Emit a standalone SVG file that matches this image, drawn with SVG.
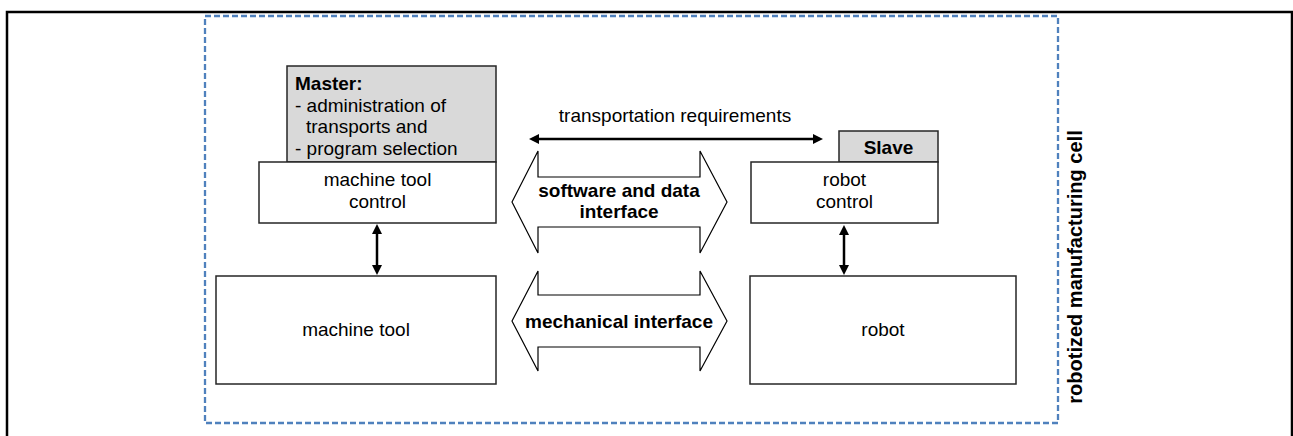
<svg xmlns="http://www.w3.org/2000/svg" width="1293" height="436" viewBox="0 0 1293 436">
<style>
.box{fill:#ffffff;stroke:#262626;stroke-width:1.5}
.gray{fill:#d9d9d9;stroke:#262626;stroke-width:1.5}
.blk{fill:#ffffff;stroke:#000000;stroke-width:1.2;stroke-linejoin:miter}
.t{font-family:"Liberation Sans",Arial,sans-serif;font-size:19px;fill:#000}
.b{font-weight:bold}
.m{text-anchor:middle}
.conn{stroke:#000;stroke-width:2.5;fill:none;marker-start:url(#ah);marker-end:url(#ah)}
</style>
<defs>
<marker id="ah" viewBox="0 0 10 10" refX="2" refY="5" markerWidth="10" markerHeight="10" markerUnits="userSpaceOnUse" orient="auto-start-reverse">
<path d="M0,0 L10,5 L0,10 z" fill="#000"/>
</marker>
</defs>
<rect x="7" y="12" width="1285" height="440" fill="none" stroke="#000" stroke-width="2.5"/>
<g id="cell">
<rect x="205" y="16" width="853" height="407" fill="none" stroke="#4f81bd" stroke-width="2.3" stroke-dasharray="6,3"/>
<text class="t b m" font-size="20" transform="translate(1082,267) rotate(-90)" style="font-size:20px">robotized manufacturing cell</text>
</g>
<g id="master">
<rect class="gray" x="287" y="66" width="209" height="96"/>
<text class="t b" x="295" y="90">Master:</text>
<text class="t" x="295" y="112">- administration of</text>
<text class="t" x="306" y="133">transports and</text>
<text class="t" x="295" y="155">- program selection</text>
</g>
<g id="mtcontrol">
<rect class="box" x="259" y="162" width="237" height="61"/>
<text class="t m" x="377.5" y="186">machine tool</text>
<text class="t m" x="377.5" y="208">control</text>
</g>
<g id="machinetool">
<rect class="box" x="216" y="276" width="280" height="108"/>
<text class="t m" x="356" y="336">machine tool</text>
</g>
<g id="slave">
<rect class="gray" x="839" y="131" width="99" height="31"/>
<text class="t b m" x="888.5" y="154">Slave</text>
</g>
<g id="robotcontrol">
<rect class="box" x="751" y="162" width="187" height="61"/>
<text class="t m" x="844.5" y="186">robot</text>
<text class="t m" x="844.5" y="208">control</text>
</g>
<g id="robot">
<rect class="box" x="750" y="276" width="266" height="108"/>
<text class="t m" x="883" y="336">robot</text>
</g>
<g id="software">
<polygon class="blk" points="512,202 538,151 538,177 700,177 700,151 727,202 700,253 700,227 538,227 538,253"/>
<text class="t b m" x="619" y="197">software and data</text>
<text class="t b m" x="619" y="218">interface</text>
</g>
<g id="mechanical">
<polygon class="blk" points="512,321 538,271 538,295 700,295 700,271 727,321 700,371 700,347 538,347 538,371"/>
<text class="t b m" x="619" y="328">mechanical interface</text>
</g>
<g id="connectors">
<text class="t m" x="675" y="122">transportation requirements</text>
<line class="conn" x1="537" y1="139" x2="815" y2="139"/>
<line class="conn" x1="377" y1="232" x2="377" y2="267"/>
<line class="conn" x1="844" y1="233" x2="844" y2="267"/>
</g>
</svg>
